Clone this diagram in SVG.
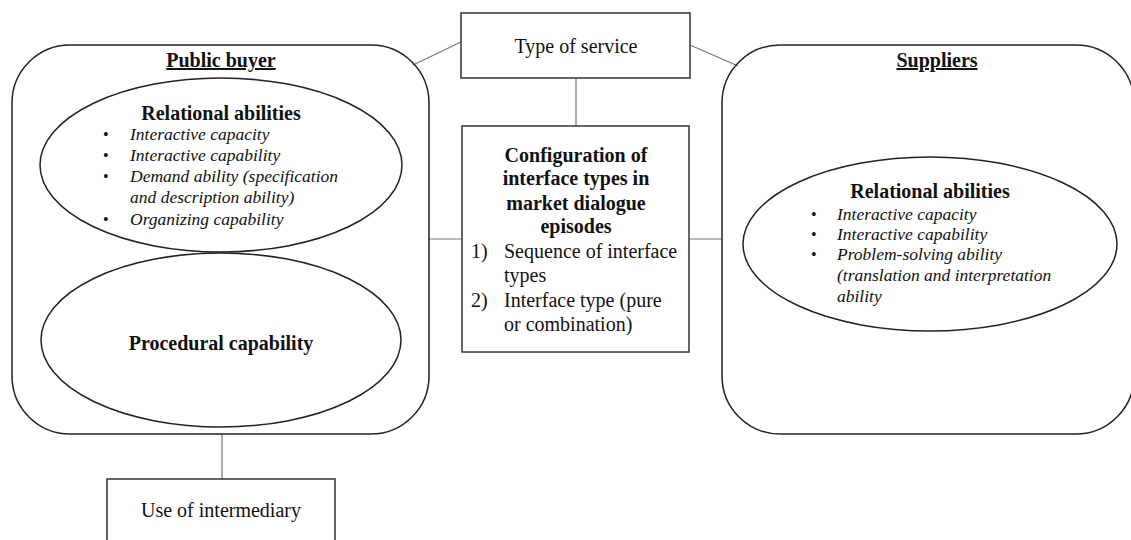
<svg xmlns="http://www.w3.org/2000/svg" width="1131" height="540" viewBox="0 0 1131 540" font-family="'Liberation Serif', 'Times New Roman', 'DejaVu Serif', serif">
<style>
.shape{fill:none;stroke:#222;stroke-width:1.5}
.box{fill:#fff;stroke:#333;stroke-width:1.5}
.conn{stroke:#777;stroke-width:1.2;fill:none}
text{fill:#111}
.t{font-size:20px;text-anchor:middle}
.b{font-weight:bold}
.u{text-decoration:underline}
.i{font-style:italic;font-size:17.5px}
.bl{font-size:16px}
.n{font-size:20px}
</style>
<rect width="1131" height="540" fill="#fff"/>
<g id="connectors">
<line class="conn" x1="413" y1="65" x2="461" y2="42"/>
<line class="conn" x1="690" y1="45" x2="738" y2="66"/>
<line class="conn" x1="576" y1="78" x2="576" y2="126"/>
<line class="conn" x1="428" y1="239" x2="462" y2="239"/>
<line class="conn" x1="689" y1="239" x2="722" y2="239"/>
<line class="conn" x1="222" y1="434" x2="222" y2="479"/>
</g>
<g id="public-buyer">
<rect class="shape" x="12" y="45" width="417" height="389" rx="58" ry="58"/>
<text class="t b u" x="221" y="67">Public buyer</text>
</g>
<g id="pb-relational">
<ellipse class="shape" cx="221" cy="165" rx="181" ry="87"/>
<text class="t b" x="221" y="120">Relational abilities</text>
<g class="bl"><text x="103" y="140">•</text><text x="103" y="161">•</text><text x="103" y="182">•</text><text x="103" y="225">•</text></g>
<g class="i">
<text x="130" y="140">Interactive capacity</text>
<text x="130" y="161">Interactive capability</text>
<text x="130" y="182">Demand ability (specification</text>
<text x="130" y="203">and description ability)</text>
<text x="130" y="225">Organizing capability</text>
</g>
</g>
<g id="pb-procedural">
<ellipse class="shape" cx="221" cy="340" rx="180" ry="87"/>
<text class="t b" x="221" y="350">Procedural capability</text>
</g>
<g id="type-of-service">
<rect class="box" x="461" y="13" width="229" height="65"/>
<text class="t" x="576" y="53">Type of service</text>
</g>
<g id="configuration">
<rect class="box" x="462" y="126" width="227" height="226"/>
<text class="t b" x="576" y="162">Configuration of</text>
<text class="t b" x="576" y="185">interface types in</text>
<text class="t b" x="576" y="210">market dialogue</text>
<text class="t b" x="576" y="233">episodes</text>
<text class="n" x="471" y="258">1)</text>
<text class="n" x="504" y="258">Sequence of interface</text>
<text class="n" x="504" y="282">types</text>
<text class="n" x="471" y="307">2)</text>
<text class="n" x="504" y="307">Interface type (pure</text>
<text class="n" x="504" y="331">or combination)</text>
</g>
<g id="suppliers">
<rect class="shape" x="722" y="45" width="412" height="389" rx="58" ry="58"/>
<text class="t b u" x="937" y="67">Suppliers</text>
</g>
<g id="sup-relational">
<ellipse class="shape" cx="930" cy="244" rx="187" ry="87"/>
<text class="t b" x="930" y="198">Relational abilities</text>
<g class="bl"><text x="811" y="220">•</text><text x="811" y="240">•</text><text x="811" y="260">•</text></g>
<g class="i">
<text x="837" y="220">Interactive capacity</text>
<text x="837" y="240">Interactive capability</text>
<text x="837" y="260">Problem-solving ability</text>
<text x="837" y="281">(translation and interpretation</text>
<text x="837" y="302">ability</text>
</g>
</g>
<g id="use-of-intermediary">
<rect class="box" x="107" y="479" width="228" height="80"/>
<text class="t" x="221" y="517">Use of intermediary</text>
</g>
</svg>
